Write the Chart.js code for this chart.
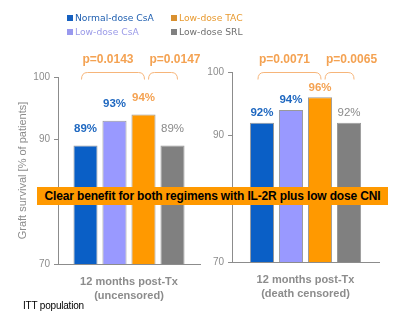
<!DOCTYPE html>
<html>
<head>
<meta charset="utf-8">
<script src="https://cdn.jsdelivr.net/npm/chart.js@4/dist/chart.umd.min.js"></script>
<style>
  html, body { margin: 0; padding: 0; background: #fff; }
  body { width: 404px; height: 323px; position: relative; overflow: hidden;
         font-family: "Liberation Sans", Arial, sans-serif; }
  canvas { position: absolute; top: 0; }
  #legend { position: absolute; left: 67px; top: 11px; width: 240px; font-family: "DejaVu Sans", Verdana, sans-serif; font-size: 9.2px; }
  .lg { position: absolute; white-space: nowrap; line-height: 13px; }
  .lg i { display: inline-block; width: 6px; height: 6px; margin-right: 2px; vertical-align: 0px; }
  #banner { position: absolute; left: 37px; top: 187px; width: 351px; height: 18px; background: #ff9900;
            color: #000; font-weight: bold; font-size: 12px; line-height: 18px; text-align: center; white-space: nowrap;
            letter-spacing: -0.16px; }
  #note { position: absolute; left: 23px; top: 300px; font-size: 10px; color: #000; letter-spacing: -0.2px; }
</style>
</head>
<body>
<canvas id="left" width="205" height="323" style="left:0"></canvas>
<canvas id="right" width="229" height="323" style="left:175px"></canvas>
<div id="legend"></div>
<div id="banner">Clear benefit for both regimens with IL-2R plus low dose CNI</div>
<div id="note">ITT population</div>
<script>
// Treatment arms and graft survival (%) at 12 months
const seriesNames = ['Normal-dose CsA', 'Low-dose CsA', 'Low-dose TAC', 'Low-dose SRL'];
const uncensored = [89, 93, 94, 89];
const deathCensored = [92, 94, 96, 92];
const categoryUncensored = [['12 months post-Tx', '(uncensored)']];
const categoryDeathCensored = [['12 months post-Tx', '(death censored)']];
const pValuesUncensored = ['p=0.0143', 'p=0.0147'];
const pValuesDeathCensored = ['p=0.0071', 'p=0.0065'];
const yMin = 70, yMax = 100, yStep = 10;
const yTitle = 'Graft survival [% of patients]';

const barColors = ['#0a5fc6', '#9999ff', '#ff9900', '#808080'];
const labelColors = ['#1f68c0', '#1f68c0', '#f4a252', '#8a8a8a'];
const labelWeights = ['bold', 'bold', 'bold', 'normal'];
const legendText = ['#1f5fb0', '#9a9ae8', '#e89a30', '#707070'];
const legendBox = ['#1560c0', '#9999ee', '#d99030', '#808080'];
const FONT = '"Liberation Sans", Arial, sans-serif';

// Legend laid out column-wise in a 2x2 grid
const legend = document.getElementById('legend');
seriesNames.forEach((name, i) => {
  const d = document.createElement('div');
  d.className = 'lg';
  d.style.left = (i < 2 ? 0 : 104) + 'px';
  d.style.top = (i % 2 === 0 ? 0 : 14) + 'px';
  d.style.color = legendText[i];
  d.innerHTML = '<i style="background:' + legendBox[i] + '"></i>' + name;
  legend.appendChild(d);
});

// Value labels above bars, plus the p-value braces between arms
const annotate = {
  id: 'annotate',
  afterDatasetsDraw(chart, args, opts) {
    const ctx = chart.ctx;
    const bars = chart.data.datasets.map((ds, i) => chart.getDatasetMeta(i).data[0]);
    ctx.save();
    ctx.textAlign = 'center';
    ctx.textBaseline = 'middle';
    bars.forEach((b, i) => {
      ctx.font = labelWeights[i] + ' 11.5px ' + FONT;
      ctx.fillStyle = labelColors[i];
      ctx.fillText(chart.data.datasets[i].data[0] + '%', b.x, b.y - opts.labelOffset);
    });
    const spans = [[bars[0].x - 4, bars[2].x + 1], [bars[2].x + 5, bars[3].x + 5]];
    ctx.strokeStyle = '#f6b57a';
    ctx.lineWidth = 1;
    spans.forEach(([x1, x2], k) => {
      const y = 72.5, h = 7, r = 6;
      ctx.beginPath();
      ctx.moveTo(x1, y + h);
      ctx.quadraticCurveTo(x1, y, x1 + r, y);
      ctx.lineTo(x2 - r, y);
      ctx.quadraticCurveTo(x2, y, x2, y + h);
      ctx.stroke();
      ctx.font = 'bold 12px ' + FONT;
      ctx.fillStyle = '#f4a252';
      ctx.textAlign = 'left';
      ctx.fillText(opts.pValues[k], x1 + 1, 60);
    });
    ctx.restore();
  }
};

function makeChart(id, labels, values, cfg) {
  return new Chart(document.getElementById(id), {
    type: 'bar',
    data: {
      labels: labels,
      datasets: seriesNames.map((name, i) => ({
        label: name,
        data: [values[i]],
        backgroundColor: barColors[i],
        borderColor: 'rgba(70,70,70,0.55)',
        borderWidth: 1,
        categoryPercentage: cfg.catPct,
        barPercentage: 0.83
      }))
    },
    options: {
      responsive: false,
      animation: false,
      devicePixelRatio: 1,
      layout: { padding: cfg.padding },
      plugins: {
        legend: { display: false },
        tooltip: { enabled: false },
        annotate: { pValues: cfg.pValues, labelOffset: cfg.labelOffset }
      },
      scales: {
        x: {
          grid: { display: false, drawTicks: false },
          border: { display: true, color: '#8c8c8c' },
          ticks: { color: '#8c8c8c', font: { family: FONT, size: 11, weight: 'bold', lineHeight: 1.27 }, padding: 11 },
          afterFit: s => { s.height = 40; }
        },
        y: {
          min: yMin, max: yMax,
          grid: { drawOnChartArea: false, drawTicks: true, tickLength: 4, color: '#8c8c8c' },
          border: { display: true, color: '#8c8c8c' },
          ticks: { stepSize: yStep, color: '#8c8c8c', font: { family: FONT, size: 10 }, padding: 4 },
          title: cfg.showTitle ? {
            display: true, text: yTitle, color: '#8c8c8c',
            font: { family: FONT, size: 11 }, padding: { top: 16, bottom: 0 }
          } : { display: false },
          afterFit: s => { s.width = cfg.axisWidth; }
        }
      }
    },
    plugins: [annotate]
  });
}

makeChart('left', categoryUncensored, uncensored, {
  padding: { top: 77, bottom: 19, left: 0, right: 5 },
  axisWidth: 58, catPct: 0.817, showTitle: true,
  pValues: pValuesUncensored, labelOffset: 17
});
makeChart('right', categoryDeathCensored, deathCensored, {
  padding: { top: 72, bottom: 21, left: 0, right: 25 },
  axisWidth: 57, catPct: 0.79, showTitle: false,
  pValues: pValuesDeathCensored, labelOffset: 10
});
</script>
</body>
</html>
